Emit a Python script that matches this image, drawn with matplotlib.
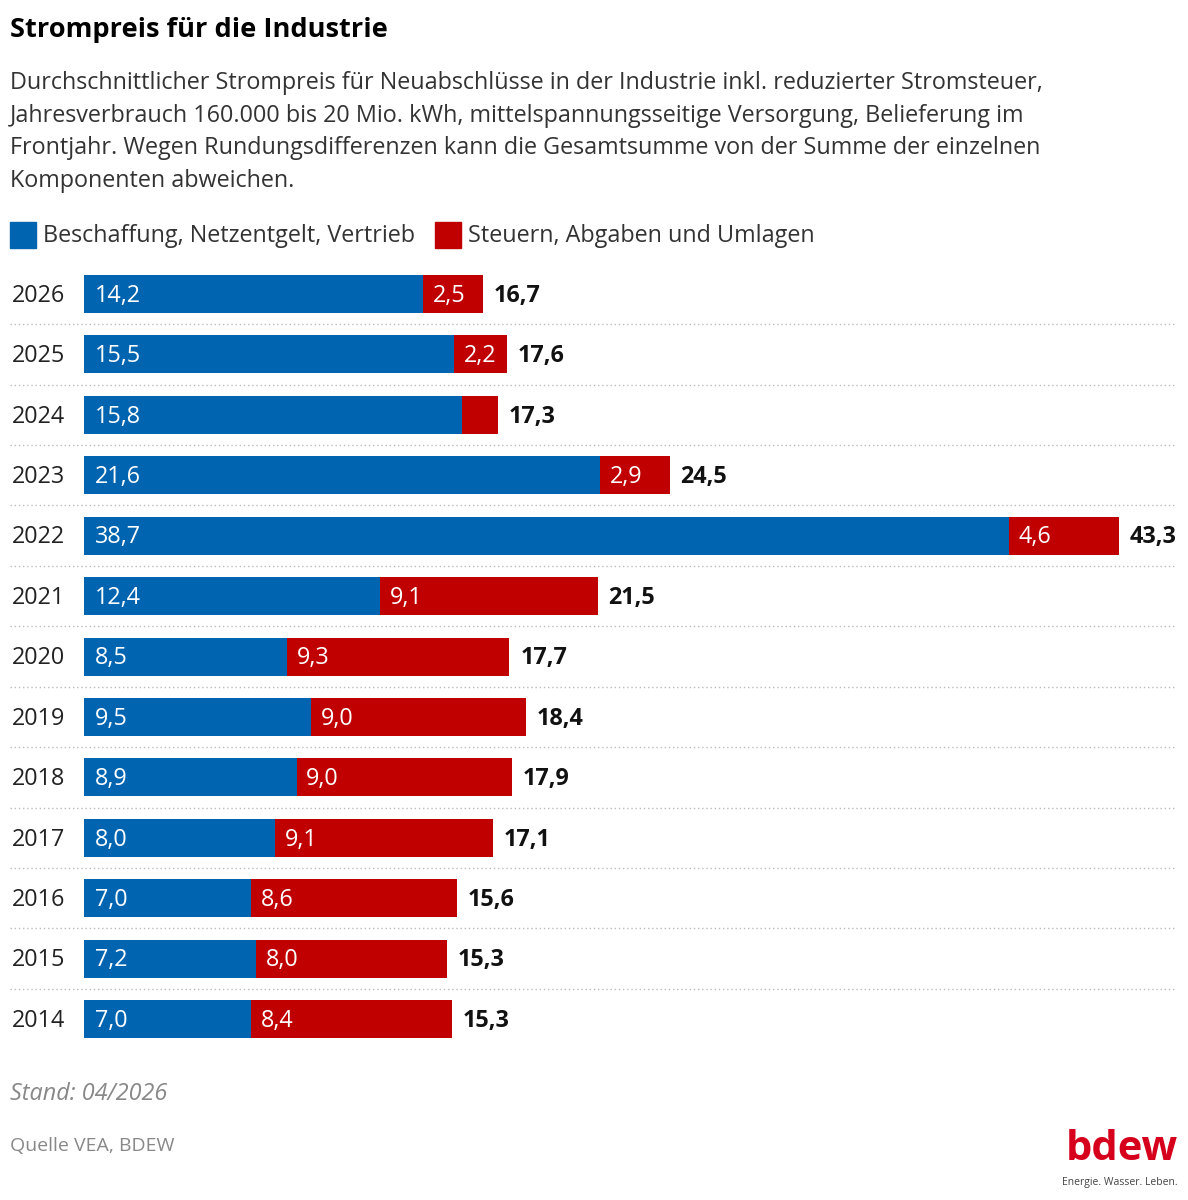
import numpy as np
import matplotlib.pyplot as plt

years = ["2026", "2025", "2024", "2023", "2022", "2021", "2020", "2019", "2018", "2017", "2016", "2015", "2014"]
beschaffung = [14.2, 15.5, 15.8, 21.6, 38.7, 12.4, 8.5, 9.5, 8.9, 8.0, 7.0, 7.2, 7.0]
steuern = [2.5, 2.2, 1.5, 2.9, 4.6, 9.1, 9.3, 9.0, 9.0, 9.1, 8.6, 8.0, 8.4]
steuern_label = ["2,5", "2,2", "", "2,9", "4,6", "9,1", "9,3", "9,0", "9,0", "9,1", "8,6", "8,0", "8,4"]
gesamt = [16.7, 17.6, 17.3, 24.5, 43.3, 21.5, 17.7, 18.4, 17.9, 17.1, 15.6, 15.3, 15.3]

BLUE = "#0064b0"
RED = "#c00000"
plt.rcParams['font.family'] = ['Open Sans', 'Noto Sans', 'DejaVu Sans']

W, H = 1188, 1200
fig = plt.figure(figsize=(W / 100, H / 100), dpi=100)

def fx(px):
    return px / W

def fy(py):
    return 1 - py / H

FS = 16.8
fig.text(fx(10), fy(30), "Strompreis für die Industrie", fontsize=19.6, fontweight="bold", va="center")
desc = ("Durchschnittlicher Strompreis für Neuabschlüsse in der Industrie inkl. reduzierter Stromsteuer,\n"
        "Jahresverbrauch 160.000 bis 20 Mio. kWh, mittelspannungsseitige Versorgung, Belieferung im\n"
        "Frontjahr. Wegen Rundungsdifferenzen kann die Gesamtsumme von der Summe der einzelnen\n"
        "Komponenten abweichen.")
fig.text(fx(10), fy(71), desc, fontsize=FS, va="top", color="#333333", linespacing=1.48)

# legend
fig.patches.append(plt.Rectangle((fx(10), fy(248)), fx(26), 26 / H, color=BLUE, transform=fig.transFigure))
fig.text(fx(43), fy(236), "Beschaffung, Netzentgelt, Vertrieb", fontsize=FS, va="center", color="#333333")
fig.patches.append(plt.Rectangle((fx(435), fy(248)), fx(26), 26 / H, color=RED, transform=fig.transFigure))
fig.text(fx(468), fy(236), "Steuern, Abgaben und Umlagen", fontsize=FS, va="center", color="#333333")

scale = (1119 - 84) / 43.3
row = (1019 - 294) / 12
ax = fig.add_axes([fx(84), fy(294 + 12.5 * row), fx(1176 - 84), 13 * row / H])
ax.set_xlim(0, (1176 - 84) / scale)
ax.set_ylim(12.5, -0.5)
ax.axis("off")

y = np.arange(len(years))
ax.barh(y, beschaffung, height=38 / row, color=BLUE)
ax.barh(y, steuern, left=beschaffung, height=38 / row, color=RED)
for i in range(len(years)):
    ax.text(-(84 - 12) / scale, i + 0.03, years[i], fontsize=FS, va="center", ha="left", color="#222222")
    ax.text(0.45, i + 0.03, f"{beschaffung[i]:.1f}".replace(".", ","), fontsize=FS, va="center", color="white")
    if steuern_label[i]:
        ax.text(beschaffung[i] + 0.4, i + 0.03, steuern_label[i], fontsize=FS, va="center", color="white")
    ax.text(beschaffung[i] + steuern[i] + 0.45, i + 0.03, f"{gesamt[i]:.1f}".replace(".", ","),
            fontsize=FS, fontweight="bold", va="center", color="#111111")
for i in range(len(years) - 1):
    ax.hlines(i + 0.5, -(84 - 10) / scale, (1176 - 84) / scale, colors="#bbbbbb",
              linestyles=(0, (1, 2)), linewidth=1, clip_on=False)

fig.text(fx(10), fy(1094), "Stand: 04/2026", fontsize=FS, style="italic", color="#888888", va="center")
fig.text(fx(10), fy(1146), "Quelle VEA, BDEW", fontsize=14, color="#888888", va="center")
fig.text(fx(1178), fy(1150), "bdew", fontsize=30, fontweight="bold", color="#d6001c", ha="right", va="center")
fig.text(fx(1178), fy(1182), "Energie. Wasser. Leben.", fontsize=7.5, color="#444444", ha="right", va="center")

fig.savefig("out.png", dpi=100)
